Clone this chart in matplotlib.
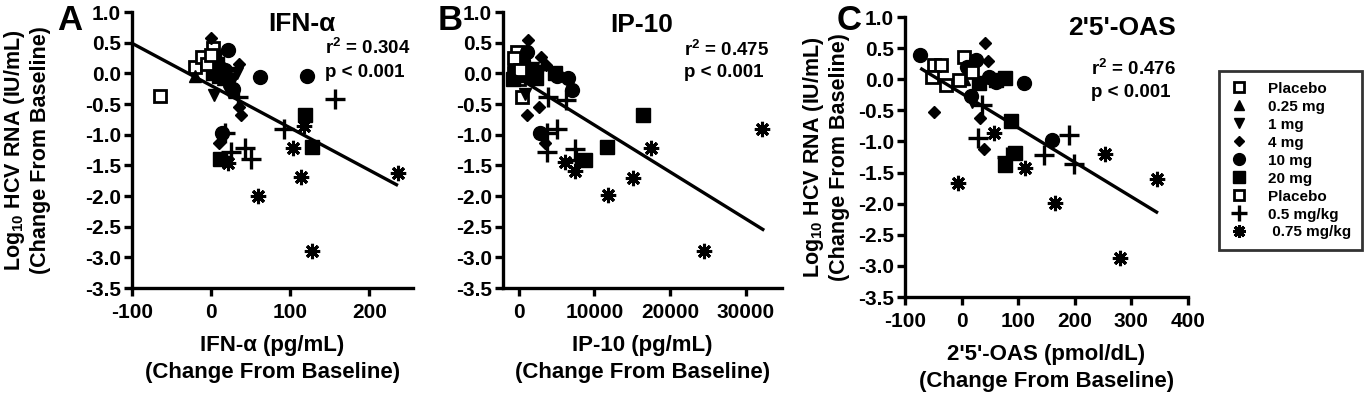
import numpy as np
import matplotlib
matplotlib.use("Agg")
import matplotlib.pyplot as plt
from matplotlib.lines import Line2D

plt.rcParams['font.family'] = ['Liberation Sans', 'DejaVu Sans']
plt.rcParams['font.weight'] = 'bold'
plt.rcParams['mathtext.fontset'] = 'custom'
plt.rcParams['mathtext.rm'] = 'Liberation Sans:bold'
plt.rcParams['mathtext.bf'] = 'Liberation Sans:bold'
plt.rcParams['mathtext.it'] = 'Liberation Sans:bold'

# ---------------- data ----------------
groups = ["Placebo", "0.25 mg", "1 mg", "4 mg", "10 mg", "20 mg", "Placebo", "0.5 mg/kg", " 0.75 mg/kg"]

# Panel A: IFN-alpha (pg/mL)
A_plac1_x = [-65, -21, -12, 2, 5];            A_plac1_y = [-0.37, 0.10, 0.27, 0.41, 0.0]
A_025_x = [-20, 8, 15];                        A_025_y = [-0.05, 0.05, -0.10]
A_1_x = [33, 28, 4, 22];                       A_1_y = [0.0, -0.10, -0.35, -0.30]
A_4_x = [0, 35, 23, 35, 38, 10, 15];           A_4_y = [0.58, 0.16, -0.08, -0.55, -0.68, -1.14, 0.10]
A_10_x = [21, 62, 121, 28, 14, 18];            A_10_y = [0.38, -0.06, -0.04, -0.25, -0.98, 0.05]
A_20_x = [4, 8, 2, 10, 118, 128, 11];          A_20_y = [0.27, 0.15, 0.0, -0.05, -0.68, -1.20, -1.40]
A_plac2_x = [-5, 0];                           A_plac2_y = [0.15, 0.30]
A_05kg_x = [157, 34, 92, 25, 43, 50, 18];      A_05kg_y = [-0.42, -0.38, -0.90, -1.28, -1.22, -1.39, -0.97]
A_075kg_x = [236, 103, 117, 113, 59, 128, 21]; A_075kg_y = [-1.62, -1.21, -0.86, -1.69, -2.00, -2.90, -1.47]

# Panel B: IP-10 (pg/mL)
B_plac1_x = [-270, 400, -600, -300, 0];        B_plac1_y = [0.35, -0.38, 0.0, 0.15, -0.10]
B_025_x = [-500, 500, 900];                    B_025_y = [-0.05, 0.10, -0.05]
B_1_x = [1500, 800, 1850];                     B_1_y = [0.0, -0.33, 0.08]
B_4_x = [1200, 2900, 3600, 1060, 2650, 3450, 2500]; B_4_y = [0.54, 0.27, 0.14, -0.68, -0.55, -1.14, 0.05]
B_10_x = [1060, 5000, 6500, 7000, 2800, 500];  B_10_y = [0.35, -0.05, -0.08, -0.27, -0.98, 0.20]
B_20_x = [-800, 2250, 4770, 16400, 11650, 8740, -500, 300]; B_20_y = [-0.10, -0.08, 0.0, -0.68, -1.20, -1.41, 0.10, 0.0]
B_plac2_x = [-600, 200];                       B_plac2_y = [0.25, 0.05]
B_05kg_x = [3840, 6200, 5030, 3700, 3700, 7400, 7550]; B_05kg_y = [-0.38, -0.44, -0.90, -0.98, -1.28, -1.23, -1.41]
B_075kg_x = [32200, 17500, 15100, 11800, 24500, 7400, 6100]; B_075kg_y = [-0.90, -1.22, -1.70, -1.99, -2.90, -1.60, -1.45]

# Panel C: 2'5'-OAS (pmol/dL)
C_plac1_x = [4, -48, -36, -53];                C_plac1_y = [0.36, 0.23, 0.23, 0.04]
C_025_x = [12, 5];                             C_025_y = [0.15, 0.0]
C_1_x = [18, 9];                               C_1_y = [-0.37, 0.12]
C_4_x = [41, 46, -48, 32, 39];                 C_4_y = [0.58, 0.29, -0.53, -0.62, -1.12]
C_10_x = [-73, 25, 48, 60, 110, 16, 160, 10];  C_10_y = [0.39, 0.31, 0.04, -0.05, -0.06, -0.27, -0.98, 0.20]
C_20_x = [30, 76, 87, 94, 76, 60];             C_20_y = [-0.06, 0.02, -0.67, -1.19, -1.38, -0.02]
C_plac2_x = [-27, -5, 18];                     C_plac2_y = [-0.09, -0.01, 0.12]
C_05kg_x = [36, 29, 189, 146, 199, 80];        C_05kg_y = [-0.41, -0.95, -0.90, -1.22, -1.36, -1.25]
C_075kg_x = [57, 112, -7, 165, 253, 345, 279]; C_075kg_y = [-0.86, -1.43, -1.67, -1.99, -1.20, -1.60, -2.87]

# regression lines (intercept, slope, x-start, x-end)
fit_A = (-0.20, -0.0069, -100, 236)
fit_B = (-0.08, -7.64e-5, -800, 32450)
fit_C = (-0.227, -0.00554, -73, 347)

stats_A = ("0.304", "0.001")
stats_B = ("0.475", "0.001")
stats_C = ("0.476", "0.001")

y_ticks = [1.0, 0.5, 0.0, -0.5, -1.0, -1.5, -2.0, -2.5, -3.0, -3.5]
A_xticks = [-100, 0, 100, 200]
B_xticks = [0, 10000, 20000, 30000]
C_xticks = [-100, 0, 100, 200, 300, 400]

# ---------------- styles ----------------
styles = [
    dict(marker='s', mfc='white', mec='black', ms=9, mew=2.0),
    dict(marker='^', mfc='black', mec='black', ms=9, mew=1),
    dict(marker='v', mfc='black', mec='black', ms=9, mew=1),
    dict(marker='D', mfc='black', mec='black', ms=6.5, mew=1),
    dict(marker='o', mfc='black', mec='black', ms=10, mew=1),
    dict(marker='s', mfc='black', mec='black', ms=9.5, mew=1),
    dict(marker='s', mfc='white', mec='black', ms=9, mew=2.0),
    dict(marker='+', mfc='black', mec='black', ms=14, mew=2.4),
    dict(marker=(8, 2, 0), mfc='black', mec='black', ms=11, mew=2.2),
]

W, H = 1367, 395
fig = plt.figure(figsize=(W / 100, H / 100), dpi=100)

def fpos(l, t, r, b):
    return [l / W, 1 - b / H, (r - l) / W, (b - t) / H]

panels = [
    dict(pos=fpos(132, 12, 413, 288), xlim=(-100, 255), xticks=A_xticks,
         data=[(A_plac1_x, A_plac1_y), (A_025_x, A_025_y), (A_1_x, A_1_y), (A_4_x, A_4_y),
               (A_10_x, A_10_y), (A_20_x, A_20_y), (A_plac2_x, A_plac2_y), (A_05kg_x, A_05kg_y),
               (A_075kg_x, A_075kg_y)],
         fit=fit_A, stats=stats_A, title="IFN-α", title_xy=(0.605, 0.958),
         stat_xy=(0.687, 0.87, 0.78), xlabel="IFN-α (pg/mL)\n(Change From Baseline)",
         letter="A", letter_xy=(70, 20), ylabel_x=-0.29),
    dict(pos=fpos(503, 12, 782, 288), xlim=(-2100, 34800), xticks=B_xticks,
         data=[(B_plac1_x, B_plac1_y), (B_025_x, B_025_y), (B_1_x, B_1_y), (B_4_x, B_4_y),
               (B_10_x, B_10_y), (B_20_x, B_20_y), (B_plac2_x, B_plac2_y), (B_05kg_x, B_05kg_y),
               (B_075kg_x, B_075kg_y)],
         fit=fit_B, stats=stats_B, title="IP-10", title_xy=(0.498, 0.953),
         stat_xy=(0.649, 0.862, 0.779), xlabel="IP-10 (pg/mL)\n(Change From Baseline)",
         letter="B", letter_xy=(450, 20), ylabel_x=None),
    dict(pos=fpos(905, 17, 1188, 297), xlim=(-100, 400), xticks=C_xticks,
         data=[(C_plac1_x, C_plac1_y), (C_025_x, C_025_y), (C_1_x, C_1_y), (C_4_x, C_4_y),
               (C_10_x, C_10_y), (C_20_x, C_20_y), (C_plac2_x, C_plac2_y), (C_05kg_x, C_05kg_y),
               (C_075kg_x, C_075kg_y)],
         fit=fit_C, stats=stats_C, title="2'5'-OAS", title_xy=(0.767, 0.96),
         stat_xy=(0.657, 0.814, 0.732), xlabel="2'5'-OAS (pmol/dL)\n(Change From Baseline)",
         letter="C", letter_xy=(849, 20), ylabel_x=-0.195),
]

for p in panels:
    ax = fig.add_axes(p['pos'])
    ax.set_xlim(*p['xlim'])
    ax.set_ylim(-3.5, 1.0)
    for (xs, ys), st in zip(p['data'], styles):
        ax.plot(xs, ys, linestyle='none', clip_on=False, zorder=3, **st)
    b0, b1, x0, x1 = p['fit']
    lx = np.array([x0, x1])
    ax.plot(lx, b0 + b1 * lx, color='black', lw=2.4, zorder=4, solid_capstyle='butt')
    for s in ['top', 'right']:
        ax.spines[s].set_visible(False)
    for s in ['left', 'bottom']:
        ax.spines[s].set_linewidth(2.4)
    ax.set_yticks(y_ticks)
    ax.set_yticklabels([f"{v:.1f}" for v in y_ticks])
    ax.set_xticks(p['xticks'])
    ax.set_xticklabels([str(v) for v in p['xticks']])
    ax.tick_params(axis='both', direction='out', length=6, width=2.4, labelsize=15)
    ax.tick_params(axis='x', pad=5)
    ax.tick_params(axis='y', pad=2)
    for lab in ax.get_xticklabels() + ax.get_yticklabels():
        lab.set_fontweight('bold')
    ax.set_xlabel(p['xlabel'], fontsize=16, fontweight='bold', labelpad=9, linespacing=1.4)
    if p['ylabel_x'] is not None:
        ax.set_ylabel("Log$_{10}$ HCV RNA (IU/mL)\n(Change From Baseline)", fontsize=15.5,
                      fontweight='bold', linespacing=1.15)
        ax.yaxis.set_label_coords(p['ylabel_x'], 0.5)
    ax.text(p['title_xy'][0], p['title_xy'][1], p['title'], transform=ax.transAxes,
            ha='center', va='center', fontsize=19, fontweight='bold')
    sx, sy1, sy2 = p['stat_xy']
    ax.text(sx, sy1, "r$^{2}$ = " + p['stats'][0], transform=ax.transAxes, ha='left',
            va='center', fontsize=13.5, fontweight='bold')
    ax.text(sx, sy2, "p < " + p['stats'][1], transform=ax.transAxes, ha='left',
            va='center', fontsize=13.5, fontweight='bold')
    fig.text(p['letter_xy'][0] / W, 1 - p['letter_xy'][1] / H, p['letter'], ha='center',
             va='center', fontsize=25, fontweight='bold')

handles = []
for st in styles:
    s = dict(st)
    s['ms'] = s['ms'] * 0.85
    handles.append(Line2D([], [], linestyle='none', **s))
leg = fig.legend(handles, groups, loc='upper left', bbox_to_anchor=(1219 / W, 1 - 71 / H),
                 bbox_transform=fig.transFigure, borderaxespad=0, frameon=True, fancybox=False,
                 edgecolor='black', fontsize=11, handlelength=1.2, handletextpad=1.3,
                 labelspacing=0.26, borderpad=0.7)
leg.get_frame().set_linewidth(2.0)
for t in leg.get_texts():
    t.set_fontweight('bold')

fig.savefig("out.png", dpi=100)
